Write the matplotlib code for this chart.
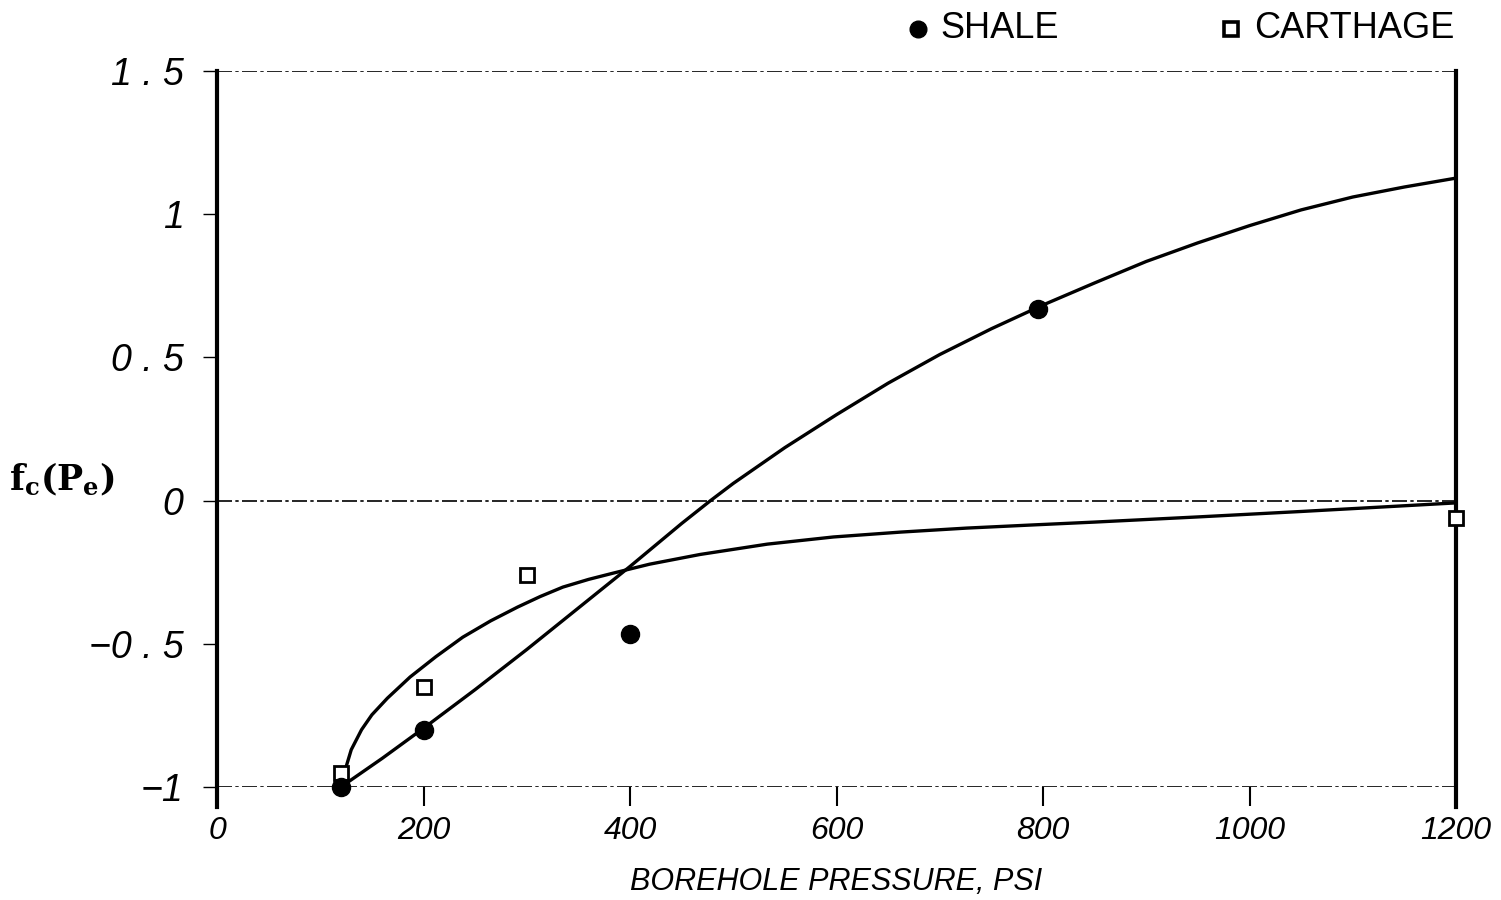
import matplotlib
matplotlib.use("Agg")
import matplotlib.pyplot as plt
from matplotlib.lines import Line2D
from matplotlib import font_manager

# Measured points
shale_p = [120, 200, 400, 795]
shale_f = [-1.00, -0.80, -0.465, 0.67]
carthage_p = [120, 200, 300, 1200]
carthage_f = [-0.95, -0.65, -0.26, -0.06]

# Fitted curves
shale_curve_p = [120, 160, 200, 250, 300, 350, 400, 450, 478, 500, 550, 600, 650,
                 700, 750, 800, 850, 900, 950, 1000, 1050, 1100, 1150, 1200]
shale_curve_f = [-1.00, -0.90, -0.795, -0.66, -0.52, -0.375, -0.23, -0.08, 0.0,
                 0.06, 0.185, 0.30, 0.41, 0.51, 0.60, 0.683, 0.76, 0.835, 0.90,
                 0.96, 1.015, 1.06, 1.095, 1.126]
carthage_curve_p = [120, 125, 130, 140, 150, 165, 187, 212, 238, 265, 291, 313,
                    335, 360, 384, 419, 468, 533, 597, 662, 726, 790, 850, 950,
                    1050, 1130, 1200]
carthage_curve_f = [-0.99, -0.93, -0.87, -0.80, -0.748, -0.69, -0.616, -0.545,
                    -0.477, -0.42, -0.372, -0.335, -0.302, -0.275, -0.253, -0.222,
                    -0.188, -0.152, -0.127, -0.110, -0.096, -0.085, -0.075, -0.057,
                    -0.038, -0.022, -0.008]

x_ticks = [0, 200, 400, 600, 800, 1000, 1200]
x_tick_labels = ["0", "200", "400", "600", "800", "1000", "1200"]
y_ticks = [-1, -0.5, 0, 0.5, 1, 1.5]
y_tick_labels = ["\u22121", "\u22120 . 5", "0", "0 . 5", "1", "1 . 5"]

available = {f.name for f in font_manager.fontManager.ttflist}


def pick(cands):
    for c in cands:
        if c in available:
            return c
    return "DejaVu Sans"


narrow = pick(["Liberation Sans Narrow", "DejaVu Sans Condensed", "Liberation Sans"])
sans = pick(["Liberation Sans", "DejaVu Sans"])

fig = plt.figure(figsize=(15.01, 9.0), dpi=100)
ax = fig.add_axes([217 / 1501, 1 - 787 / 900, (1456 - 217) / 1501, (787 - 71) / 900])
ax.set_xlim(0, 1200)
ax.set_ylim(-1, 1.5)

# reference dash-dot lines
dd = (0, (9, 2, 2, 2))
for yv in (1.5, 0.0, -1.0):
    ax.axhline(yv, color="black", lw=1.2, ls=dd, zorder=1)

ax.plot(shale_curve_p, shale_curve_f, color="black", lw=2.4, zorder=3,
        solid_joinstyle="round", solid_capstyle="round", clip_on=False)
ax.plot(carthage_curve_p, carthage_curve_f, color="black", lw=2.4, zorder=3,
        solid_joinstyle="round", solid_capstyle="round", clip_on=False)

ax.plot(shale_p, shale_f, ls="none", marker="o", ms=13, color="black",
        zorder=5, clip_on=False)
ax.plot(carthage_p, carthage_f, ls="none", marker="s", ms=10, mfc="white",
        mec="black", mew=2.0, zorder=4, clip_on=False)

for side in ("top", "bottom"):
    ax.spines[side].set_visible(False)
for side in ("left", "right"):
    ax.spines[side].set_linewidth(3.0)
    ax.spines[side].set_bounds(-1.07, 1.5)

ax.set_xticks(x_ticks)
ax.set_xticklabels(x_tick_labels, fontstyle="italic", family=narrow, fontsize=23)
ax.set_yticks(y_ticks)
ax.set_yticklabels(y_tick_labels, fontstyle="italic", family=sans, fontsize=27)
ax.tick_params(axis="x", direction="out", length=14, width=1.5, pad=7)
ax.tick_params(axis="y", direction="out", length=10, width=1.0, pad=14)

ax.set_xlabel("BOREHOLE PRESSURE, PSI", fontstyle="italic", family=narrow,
              fontsize=22, labelpad=15)

fig.text(62 / 1501, 1 - 480 / 900, r"$\mathbf{f_c(P_e)}$", fontsize=25,
         ha="center", va="center", math_fontfamily="dejavuserif")

# key at the top
fig.add_artist(Line2D([918 / 1501], [1 - 29 / 900], transform=fig.transFigure,
                      marker="o", ms=12, color="black", ls="none"))
fig.text(940 / 1501, 1 - 29 / 900, "SHALE", family=sans, fontsize=26,
         ha="left", va="center")
fig.add_artist(Line2D([1231 / 1501], [1 - 29 / 900], transform=fig.transFigure,
                      marker="s", ms=10, mfc="white", mec="black", mew=2.6,
                      ls="none"))
fig.text(1254 / 1501, 1 - 29 / 900, "CARTHAGE", family=sans, fontsize=26,
         ha="left", va="center")

fig.savefig("out.png", dpi=100, facecolor="white")
